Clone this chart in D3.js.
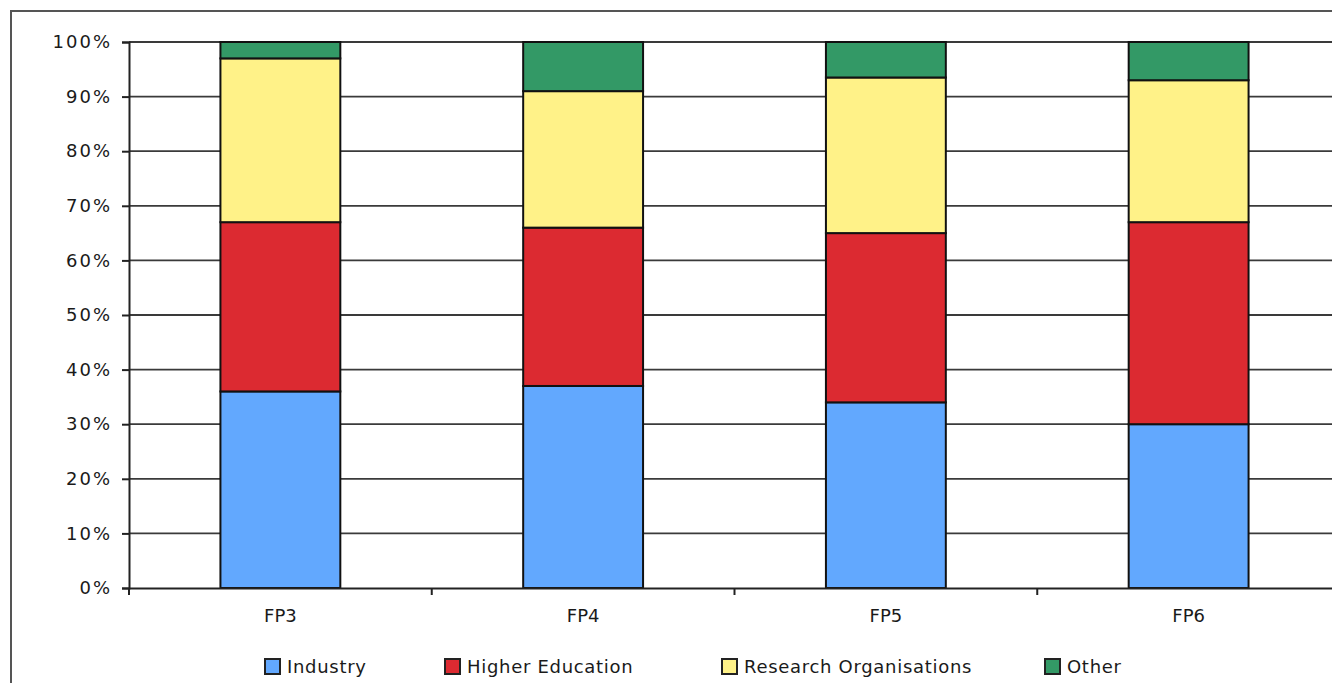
<!DOCTYPE html>
<html>
<head>
<meta charset="utf-8">
<script src="https://cdn.jsdelivr.net/npm/d3@7"></script>
<style>
  body { margin: 0; background: #fff; }
  svg { display: block; }
  text { font-family: "DejaVu Sans", Verdana, sans-serif; fill: #1a1a1a; }
</style>
</head>
<body>
<div class="chart"></div>
<script>
// programmes and shares (%) per participant type
const programmes = ["FP3", "FP4", "FP5", "FP6"];
const industry = [36, 37, 34, 30];
const higherEducation = [31, 29, 31, 37];
const researchOrgs = [30, 25, 28.5, 26];
const other = [3, 9, 6.5, 7];
const seriesNames = ["Industry", "Higher Education", "Research Organisations", "Other"];
const seriesColors = ["#62a8fe", "#dc2a31", "#fff288", "#339966"];
const yTicks = [0, 10, 20, 30, 40, 50, 60, 70, 80, 90, 100];

const width = 1332, height = 683;
const margin = {top: 42, left: 129, bottom: 95};
const plotW = 1211;

const rows = programmes.map((p, i) => ({
    name: p,
    "Industry": industry[i],
    "Higher Education": higherEducation[i],
    "Research Organisations": researchOrgs[i],
    "Other": other[i]
}));

const svg = d3.select(".chart").append("svg")
    .attr("width", width)
    .attr("height", height);

// outer frame (cropped at right and bottom)
svg.append("rect")
    .attr("x", 11).attr("y", 11)
    .attr("width", width + 20).attr("height", height + 20)
    .attr("fill", "none")
    .attr("stroke", "#555")
    .attr("stroke-width", 2);

const xScale = d3.scaleBand()
    .domain(programmes)
    .range([margin.left, margin.left + plotW])
    .paddingInner(0.604)
    .paddingOuter(0.302);

// 0% sits at y=588
const yScale = d3.scaleLinear()
    .domain([0, 100])
    .range([height - margin.bottom, margin.top]);

// gridlines
svg.append("g")
    .selectAll("line")
    .data(yTicks.filter(d => d > 0))
    .enter()
    .append("line")
    .attr("x1", margin.left)
    .attr("x2", margin.left + plotW)
    .attr("y1", d => yScale(d))
    .attr("y2", d => yScale(d))
    .attr("stroke", "#3a3a3a")
    .attr("stroke-width", 1.8);

// stacked bars
const stack = d3.stack().keys(seriesNames);
const layers = stack(rows);

svg.append("g")
    .selectAll("g")
    .data(layers)
    .enter()
    .append("g")
    .attr("fill", (d, i) => seriesColors[i])
    .selectAll("rect")
    .data(d => d)
    .enter()
    .append("rect")
    .attr("x", d => xScale(d.data.name))
    .attr("width", xScale.bandwidth())
    .attr("y", d => yScale(d[1]))
    .attr("height", d => yScale(d[0]) - yScale(d[1]))
    .attr("stroke", "#111")
    .attr("stroke-width", 2);

// y axis
const yAxis = svg.append("g")
    .attr("transform", "translate(" + margin.left + ",0)")
    .call(d3.axisLeft(yScale).tickValues(yTicks).tickFormat(d => d + "%").tickSize(7).tickPadding(10));
yAxis.select(".domain").attr("stroke", "#222").attr("stroke-width", 2);
yAxis.selectAll(".tick line").attr("stroke", "#222").attr("stroke-width", 2);
yAxis.selectAll("text")
    .style("font-size", "18px")
    .style("letter-spacing", "2px")
    .attr("fill", "#1a1a1a");

// x axis
const xAxis = svg.append("g")
    .attr("transform", "translate(0," + yScale(0) + ")")
    .call(d3.axisBottom(xScale).tickSize(0).tickPadding(21));
xAxis.select(".domain").attr("stroke", "#222").attr("stroke-width", 2);
xAxis.selectAll("text").style("font-size", "18px").attr("fill", "#1a1a1a");

// category boundary ticks
const step = xScale.step();
svg.append("g")
    .selectAll("line")
    .data(d3.range(0, programmes.length + 1))
    .enter()
    .append("line")
    .attr("x1", i => margin.left + i * step)
    .attr("x2", i => margin.left + i * step)
    .attr("y1", yScale(0))
    .attr("y2", yScale(0) + 7)
    .attr("stroke", "#222")
    .attr("stroke-width", 2);

// legend
const legendX = [265, 445, 722, 1045];
const legend = svg.append("g")
    .selectAll("g")
    .data(seriesNames)
    .enter()
    .append("g")
    .attr("transform", (d, i) => "translate(" + legendX[i] + ",666)");
legend.append("rect")
    .attr("x", 0).attr("y", -7)
    .attr("width", 15).attr("height", 15)
    .attr("fill", (d, i) => seriesColors[i])
    .attr("stroke", "#222")
    .attr("stroke-width", 2);
legend.append("text")
    .attr("x", 22)
    .attr("y", 1)
    .attr("dy", "0.35em")
    .style("font-size", "18px")
    .style("letter-spacing", "0.7px")
    .text(d => d);
</script>
</body>
</html>
